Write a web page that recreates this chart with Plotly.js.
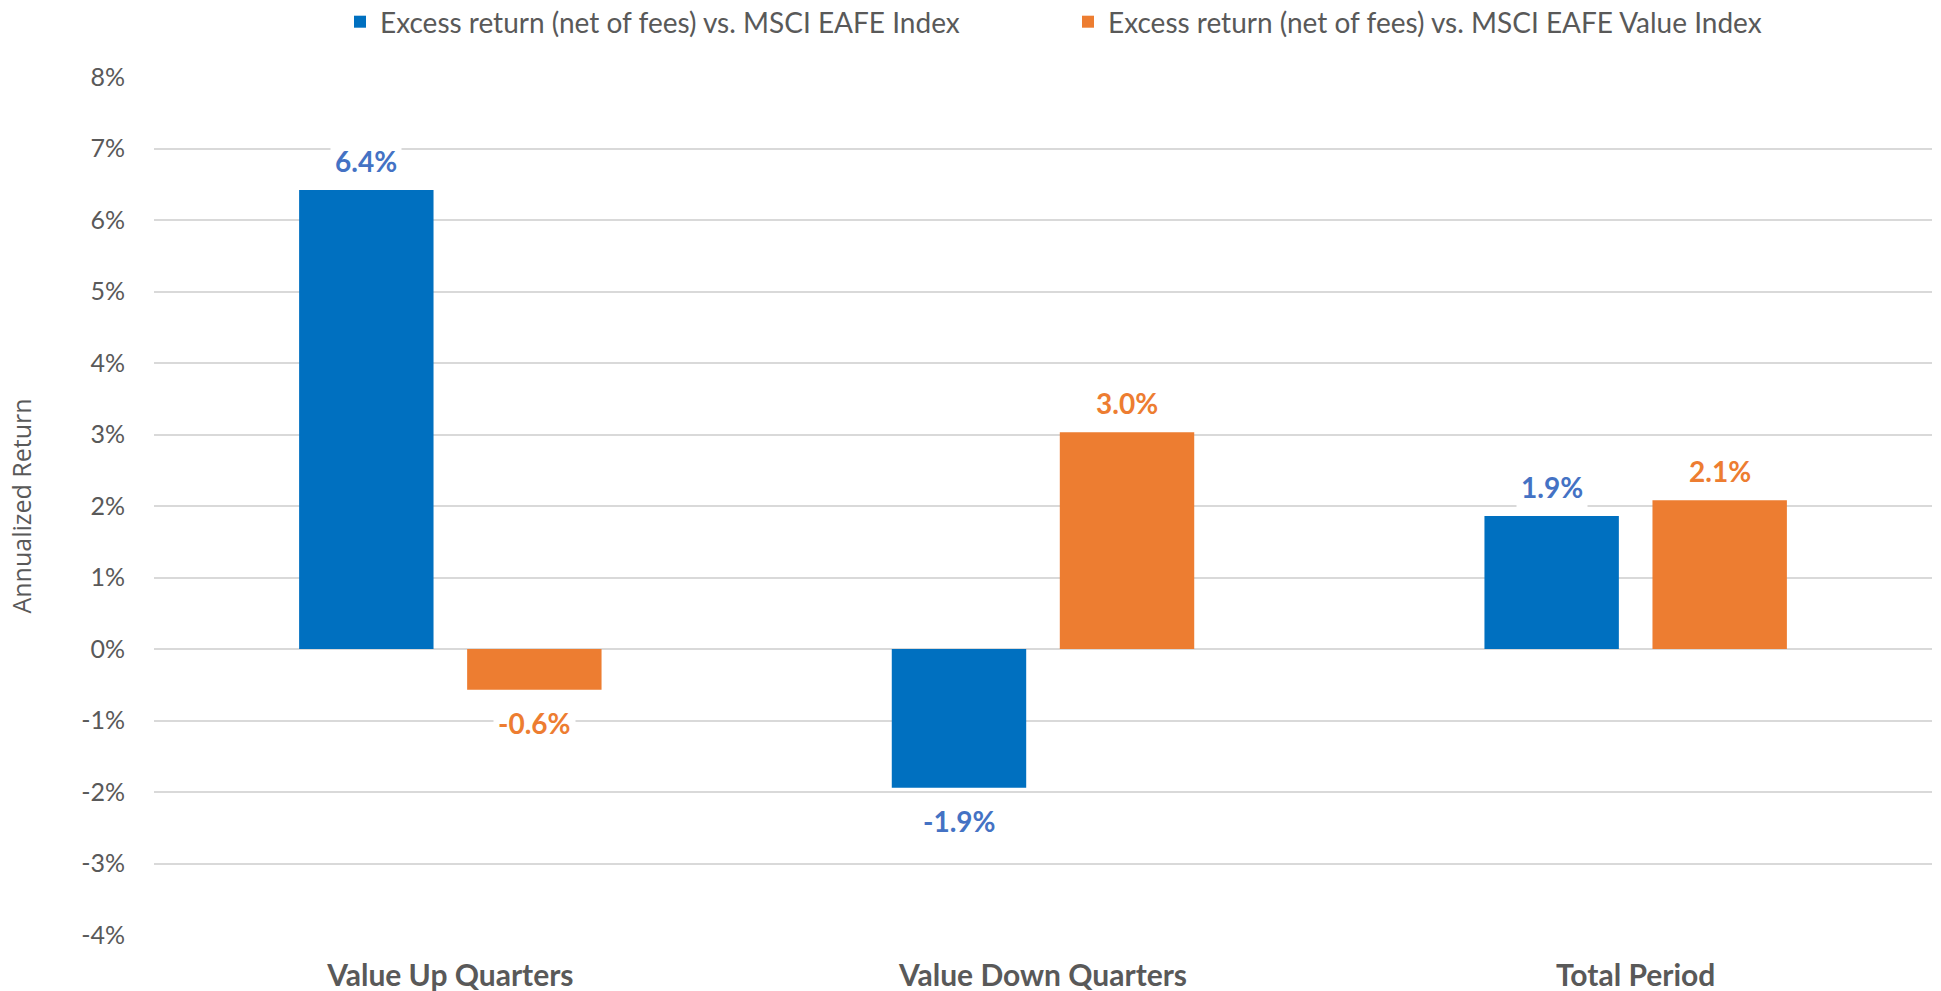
<!DOCTYPE html>
<html>
<head>
<meta charset="utf-8">
<script src="https://cdn.plot.ly/plotly-3.0.1.min.js"></script>
<style>html,body{margin:0;padding:0;background:#fff;}#chart{width:1941px;height:991px;}</style>
</head>
<body>
<div id="chart"></div>
<script>
const categories = ["Value Up Quarters", "Value Down Quarters", "Total Period"];
const seriesNames = [
  "Excess return (net of fees) vs. MSCI EAFE Index",
  "Excess return (net of fees) vs. MSCI EAFE Value Index"
];
const vsEafe = [6.42, -1.94, 1.86];
const vsEafeValue = [-0.57, 3.03, 2.08];
const yTickVals = [-4, -3, -2, -1, 0, 1, 2, 3, 4, 5, 6, 7, 8];
const yTickText = ["-4%", "-3%", "-2%", "-1%", "0%", "1%", "2%", "3%", "4%", "5%", "6%", "7%", "8%"];

const barColors = ["#0070C0", "#ED7D31"];
const labelColors = ["#4472C4", "#ED7D31"];
const grey = "#595959";
const FONT = "Lato, 'Open Sans', sans-serif";

const traces = [vsEafe, vsEafeValue].map((vals, i) => ({
  type: "bar",
  name: seriesNames[i],
  x: categories,
  y: vals,
  marker: { color: barColors[i] },
  hoverinfo: "skip"
}));

const annotations = [];
[vsEafe, vsEafeValue].forEach((vals, i) => {
  vals.forEach((v, j) => {
    annotations.push({
      x: categories[j], y: v, xref: "x", yref: "y",
      text: v.toFixed(1) + "%",
      showarrow: false,
      xshift: (i === 0 ? -84 : 84),
      yshift: v >= 0 ? 29 : -33,
      yanchor: "middle",
      bgcolor: "#ffffff",
      borderpad: 4,
      font: { family: FONT, size: 28, color: labelColors[i], weight: "bold" }
    });
  });
});

const layout = {
  width: 1941, height: 991,
  margin: { l: 154, r: 9, t: 77, b: 56, autoexpand: false },
  paper_bgcolor: "#ffffff",
  plot_bgcolor: "#ffffff",
  barmode: "group",
  bargap: 0.433,
  bargroupgap: 0.2,
  showlegend: true,
  legend: {
    orientation: "h",
    xref: "paper", x: (340 - 154) / 1778, xanchor: "left",
    yref: "container", y: 1 - 22 / 991, yanchor: "middle",
    entrywidth: 683,
    font: { family: FONT, size: 28, color: grey },
    traceorder: "normal"
  },
  xaxis: {
    type: "category",
    showgrid: false, zeroline: false, showline: false,
    ticks: "",
    ticklabelstandoff: 20,
    tickfont: { family: FONT, size: 30, color: grey, weight: "bold" }
  },
  yaxis: {
    range: [-4, 8],
    tickvals: yTickVals,
    ticktext: yTickText,
    showgrid: true, gridcolor: "#D9D9D9", gridwidth: 2,
    zeroline: true, zerolinecolor: "#D9D9D9", zerolinewidth: 2,
    showline: false, ticks: "",
    ticklabelstandoff: 28,
    tickfont: { family: FONT, size: 25, color: grey },
    title: { text: "Annualized Return", standoff: 42,
      font: { family: "'Open Sans', sans-serif", size: 25, color: grey } },
    automargin: false
  },
  annotations: annotations
};

Plotly.newPlot("chart", traces, layout, { displayModeBar: false, staticPlot: true });
</script>
</body>
</html>
